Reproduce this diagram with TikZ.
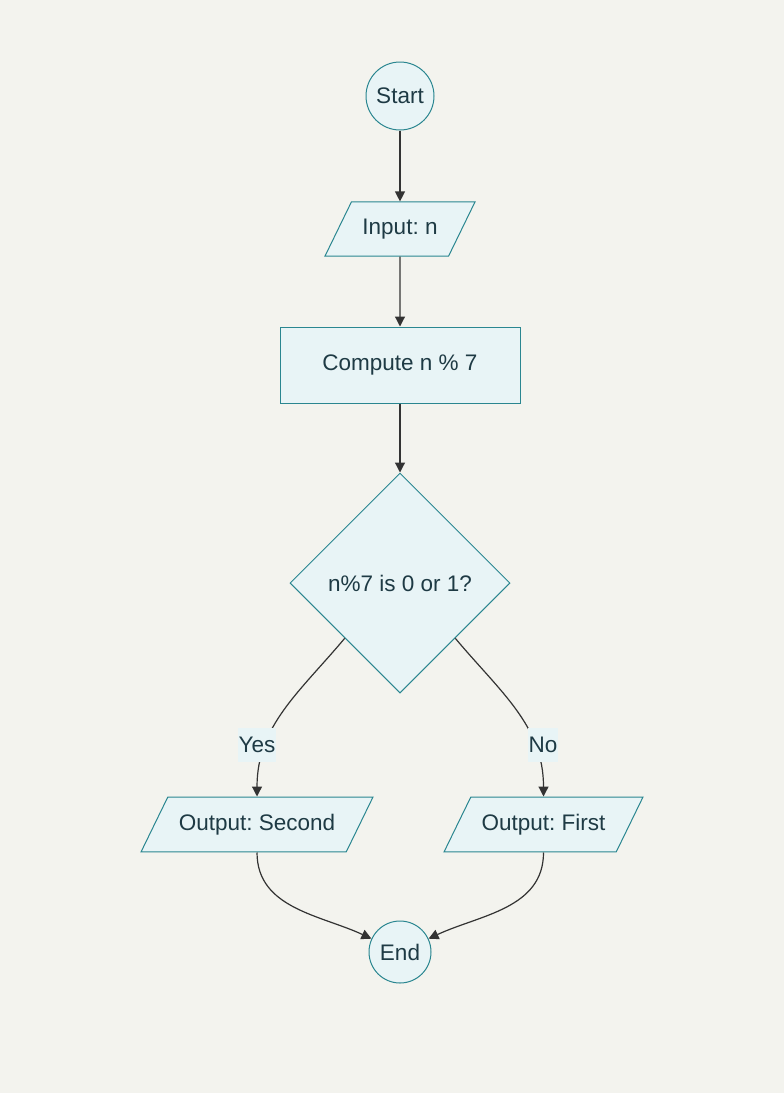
\documentclass[tikz,border=0pt]{standalone}
\usepackage{fontspec}
\setmainfont{Liberation Sans}
\frenchspacing
\usepackage{tikz}
\usetikzlibrary{shapes.geometric, arrows.meta, positioning}
\usepackage{xcolor}
\definecolor{bgcol}{HTML}{F3F3EE}
\definecolor{boxfill}{HTML}{E8F4F6}
\definecolor{boxline}{HTML}{2A8690}
\definecolor{txtcol}{HTML}{1E3A44}
\definecolor{edgecol}{HTML}{333333}
\tikzstyle{arrow} = [line width=1.2pt, draw=edgecol, -{Triangle[length=10pt,width=10pt]}]
\tikzstyle{base} = [draw=boxline, fill=boxfill, line width=1pt, text=txtcol, font=\fontsize{22.5}{27}\selectfont]
\tikzstyle{terminal} = [base, circle, inner sep=0pt]
\tikzstyle{io} = [base, trapezium, trapezium left angle=64, trapezium right angle=116, trapezium stretches body, inner xsep=2pt, inner ysep=17pt]
\tikzstyle{process} = [base, rectangle, minimum width=240pt, minimum height=76pt]
\tikzstyle{decision} = [base, diamond, minimum width=220pt, minimum height=220pt, inner sep=0pt]
\tikzstyle{lbl} = [fill=boxfill, text=txtcol, font=\fontsize{22.5}{27}\selectfont, inner xsep=1pt, minimum height=34pt]

\begin{document}
\begin{tikzpicture}[x=1pt, y=1pt]
  % Canvas
  \fill[bgcol] (0,0) rectangle (784,-1093);
  \useasboundingbox (0,0) rectangle (784,-1093);

  % Nodes
  \node[terminal, minimum size=68pt] (start) at (400,-96) {Start};
  \node[io, minimum width=150pt] (input) at (400,-229) {Input: n};
  \node[process] (compute) at (400,-365) {Compute n \% 7};
  \node[decision] (check) at (400,-583) {n\%7 is 0 or 1?};
  \node[io, minimum width=232pt] (second) at (257,-824.5) {Output: Second};
  \node[io, minimum width=199pt] (first) at (543.5,-824.5) {Output: First};
  \node[terminal, minimum size=62pt] (end) at (400,-952) {End};

  % Connections
  \draw[arrow] (start) -- (input);
  \draw[arrow] (input) -- (compute);
  \draw[arrow] (compute) -- (check);
  \draw[arrow] (check.south west) to[out=230, in=90] (second);
  \draw[arrow] (check.south east) to[out=-50, in=90] (first);
  \draw[arrow] (second) to[out=-90, in=155] (end);
  \draw[arrow] (first) to[out=-90, in=25] (end);

  % Edge labels
  \node[lbl] (yes) at (257,-745) {Yes};
  \node[lbl] (no) at (543,-745) {No};
\end{tikzpicture}
\end{document}
